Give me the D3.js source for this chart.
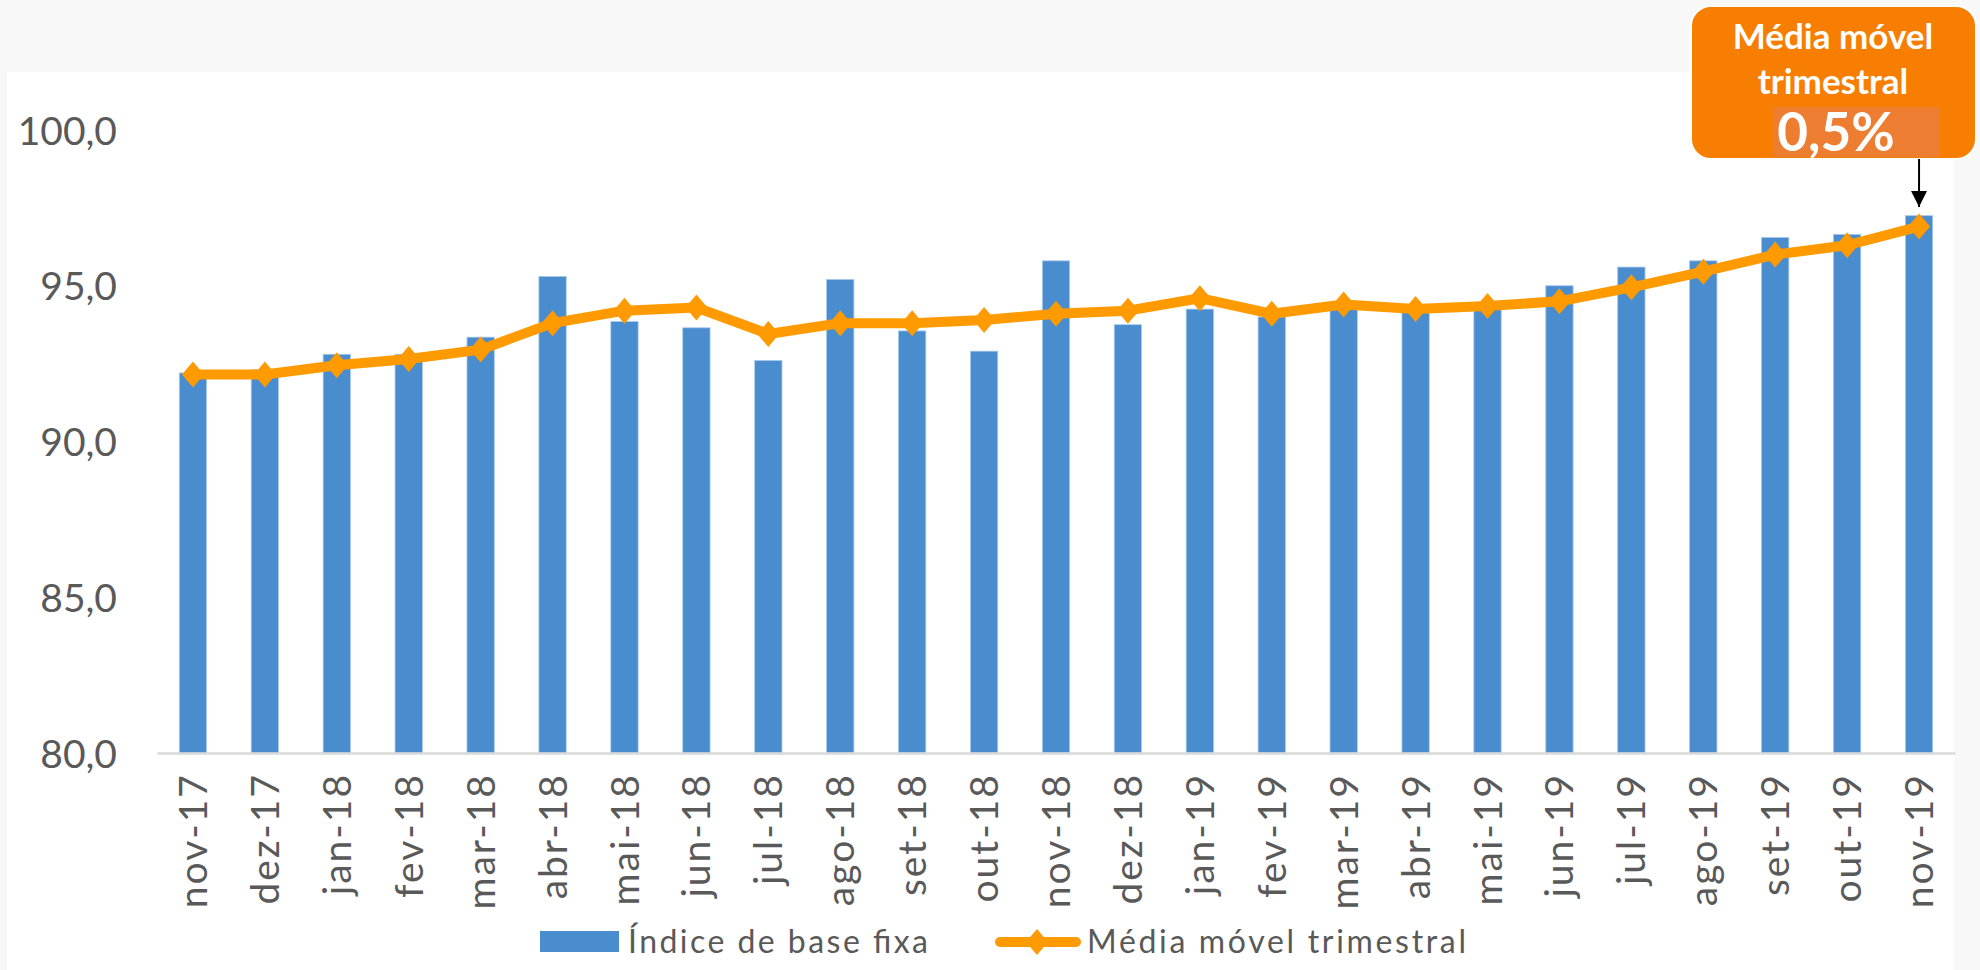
<!DOCTYPE html>
<html>
<head>
<meta charset="utf-8">
<script src="https://cdn.jsdelivr.net/npm/d3@7"></script>
<style>
  html, body { margin: 0; padding: 0; background: #f8f8f8; }
  svg { display: block; }
  text { font-family: Lato, "Open Sans", sans-serif; }
</style>
</head>
<body>
<svg id="chart" width="1980" height="970"></svg>
<script>
"use strict";

// months on the x axis
const months = [
    "nov-17", "dez-17", "jan-18", "fev-18", "mar-18", "abr-18", "mai-18", "jun-18",
    "jul-18", "ago-18", "set-18", "out-18", "nov-18", "dez-18", "jan-19", "fev-19",
    "mar-19", "abr-19", "mai-19", "jun-19", "jul-19", "ago-19", "set-19", "out-19", "nov-19"
];

// bars: fixed base index
const baseIndex = [
    92.2, 92.3, 92.8, 92.8, 93.35, 95.3, 93.85, 93.65,
    92.6, 95.2, 93.55, 92.9, 95.8, 93.75, 94.25, 94.0,
    94.3, 94.15, 94.3, 95.0, 95.6, 95.8, 96.55, 96.65, 97.25
];

// line: three month moving average
const movingAvg = [
    92.15, 92.15, 92.45, 92.65, 92.95, 93.8, 94.2, 94.3,
    93.45, 93.8, 93.8, 93.9, 94.1, 94.2, 94.6, 94.1,
    94.4, 94.25, 94.35, 94.5, 94.95, 95.45, 96.0, 96.3, 96.9
];

const yTicks = [80, 85, 90, 95, 100];
const seriesNames = ["Índice de base fixa", "Média móvel trimestral"];
const calloutLines = ["Média móvel", "trimestral"];
const calloutValue = "0,5%";

const blue = "#4a8dcf";
const orange = "#ff9a00";
const grey = "#595959";

const svg = d3.select("#chart");

// white plot panel
svg.append("rect")
    .attr("x", 7).attr("y", 72)
    .attr("width", 1947).attr("height", 898)
    .attr("fill", "#ffffff");

const x = d3.scaleBand()
    .domain(months)
    .range([157, 1955])
    .paddingInner(0.62)
    .paddingOuter(0.31);

const y = d3.scaleLinear()
    .domain([80, 100])
    .range([753, 130]);

// y labels (no axis line, no gridlines)
const yAxis = svg.append("g")
    .attr("transform", "translate(117,0)")
    .call(d3.axisLeft(y).tickValues(yTicks).tickSize(0).tickPadding(0)
        .tickFormat(d => d3.format(".1f")(d).replace(".", ",")));
yAxis.select(".domain").remove();
yAxis.selectAll("text")
    .attr("fill", grey)
    .attr("font-size", 39)
    .attr("dy", "0.36em")
    .style("font-family", "Lato, sans-serif");

// bars
svg.append("g")
    .selectAll("rect")
    .data(baseIndex)
    .join("rect")
    .attr("x", (d, i) => x(months[i]))
    .attr("y", d => y(d))
    .attr("width", x.bandwidth())
    .attr("height", d => y(80) - y(d))
    .attr("fill", blue)
    .attr("stroke", "#a9c9ea")
    .attr("stroke-width", 0.8);

// x axis
const xAxis = svg.append("g")
    .attr("transform", "translate(0," + y(80) + ")")
    .call(d3.axisBottom(x).tickSize(0).tickPadding(0));
xAxis.select(".domain")
    .attr("stroke", "#d9d9d9")
    .attr("stroke-width", 2.5);
xAxis.selectAll("text")
    .attr("fill", grey)
    .attr("font-size", 39)
    .attr("letter-spacing", 2)
    .attr("text-anchor", "end")
    .attr("transform", "translate(0,20) rotate(-90)")
    .attr("x", 0)
    .attr("y", 0)
    .attr("dy", "0.36em")
    .style("font-family", "Lato, sans-serif");

// moving average line
const line = d3.line()
    .x((d, i) => x(months[i]) + x.bandwidth() / 2)
    .y(d => y(d));

svg.append("path")
    .datum(movingAvg)
    .attr("d", line)
    .attr("fill", "none")
    .attr("stroke", orange)
    .attr("stroke-width", 10)
    .attr("stroke-linejoin", "round");

const diamond = "M0,-13 L11,0 L0,13 L-11,0 Z";
svg.append("g")
    .selectAll("path")
    .data(movingAvg)
    .join("path")
    .attr("d", diamond)
    .attr("transform", (d, i) => "translate(" + (x(months[i]) + x.bandwidth() / 2) + "," + y(d) + ")")
    .attr("fill", orange);

// legend
const legend = svg.append("g");
legend.append("rect")
    .attr("x", 540).attr("y", 931)
    .attr("width", 79).attr("height", 21)
    .attr("fill", blue);
legend.append("text")
    .attr("x", 628).attr("y", 953)
    .attr("fill", grey)
    .attr("font-size", 32)
    .attr("textLength", 300)
    .attr("lengthAdjust", "spacing")
    .text(seriesNames[0]);
legend.append("line")
    .attr("x1", 1000).attr("x2", 1076)
    .attr("y1", 942).attr("y2", 942)
    .attr("stroke", orange)
    .attr("stroke-width", 10)
    .attr("stroke-linecap", "round");
legend.append("path")
    .attr("d", diamond)
    .attr("transform", "translate(1037,942)")
    .attr("fill", orange);
legend.append("text")
    .attr("x", 1087).attr("y", 953)
    .attr("fill", grey)
    .attr("font-size", 32)
    .attr("textLength", 379)
    .attr("lengthAdjust", "spacing")
    .text(seriesNames[1]);

// callout pointing at the last moving average point
const lastX = x(months[months.length - 1]) + x.bandwidth() / 2;
const callout = svg.append("g");
callout.append("rect")
    .attr("x", 1691).attr("y", 6)
    .attr("width", 285).attr("height", 153)
    .attr("rx", 20)
    .attr("fill", "#f77e00")
    .attr("stroke", "#ffffff")
    .attr("stroke-width", 2);
callout.append("rect")
    .attr("x", 1774).attr("y", 107)
    .attr("width", 166).attr("height", 50)
    .attr("fill", "#ed7d31");
callout.selectAll("text.lbl")
    .data(calloutLines)
    .join("text")
    .attr("class", "lbl")
    .attr("x", 1833)
    .attr("y", (d, i) => 49 + i * 45)
    .attr("text-anchor", "middle")
    .attr("fill", "#ffffff")
    .attr("font-size", 35)
    .attr("font-weight", "bold")
    .text(d => d);
callout.append("text")
    .attr("x", 1836).attr("y", 151)
    .attr("text-anchor", "middle")
    .attr("fill", "#ffffff")
    .attr("font-size", 53)
    .attr("font-weight", "bold")
    .text(calloutValue);

svg.append("defs").append("marker")
    .attr("id", "head")
    .attr("viewBox", "0 0 10 10")
    .attr("refX", 10).attr("refY", 5)
    .attr("markerWidth", 16).attr("markerHeight", 16)
    .attr("markerUnits", "userSpaceOnUse")
    .attr("orient", "auto")
    .append("path")
    .attr("d", "M0,0 L10,5 L0,10 Z")
    .attr("fill", "#000");
svg.append("line")
    .attr("x1", lastX).attr("x2", lastX)
    .attr("y1", 159).attr("y2", 207)
    .attr("stroke", "#000")
    .attr("stroke-width", 2)
    .attr("marker-end", "url(#head)");
</script>
</body>
</html>
